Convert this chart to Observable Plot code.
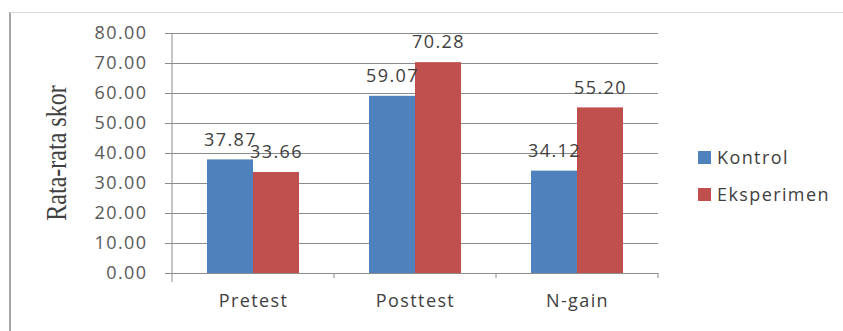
<!DOCTYPE html>
<html>
<head>
<meta charset="utf-8">
<script src="https://cdn.jsdelivr.net/npm/d3@7"></script>
<script src="https://cdn.jsdelivr.net/npm/@observablehq/plot@0.6"></script>
<style>
  html, body { margin: 0; padding: 0; background: #fff; }
  #wrap { position: relative; width: 843px; height: 331px; overflow: hidden; }
  #border { position: absolute; left: 9px; top: 12px; right: 0; bottom: 0; border-top: 1px solid #d9d9d9; border-left: 2px solid #a6a6a6; }
  #chart { position: absolute; left: 0; top: 0; }
  #chart svg text { letter-spacing: 1.4px; }
  .legend { position: absolute; left: 698px; top: 146px; font-family: "Open Sans", sans-serif; font-size: 18px; letter-spacing: 1.4px; color: #404040; }
  .legend .item { display: flex; align-items: center; height: 22px; margin-bottom: 15px; }
  .legend .sw { width: 13px; height: 13px; margin-right: 6px; }
  .ytitle { position: absolute; left: 57px; top: 153px; transform: translate(-50%, -50%) rotate(-90deg) scale(1, 1.25); font-family: "Liberation Serif", "Times New Roman", serif; font-size: 24px; color: #404040; white-space: nowrap; }
</style>
</head>
<body>
<div id="wrap">
  <div id="border"></div>
  <div id="chart"></div>
  <div class="ytitle">Rata-rata skor</div>
  <div class="legend" id="legend"></div>
</div>
<script>
const categories = ["Pretest", "Posttest", "N-gain"];
const series = ["Kontrol", "Eksperimen"];
const kontrol = [37.87, 59.07, 34.12];
const eksperimen = [33.66, 70.28, 55.20];
const yTicks = [0, 10, 20, 30, 40, 50, 60, 70, 80];
const colors = ["#4F81BD", "#C0504D"];

const data = categories.flatMap((c, i) => [
  {category: c, series: series[0], value: kontrol[i]},
  {category: c, series: series[1], value: eksperimen[i]}
]);

const plot = Plot.plot({
  width: 843,
  height: 331,
  marginLeft: 172,
  marginRight: 185,
  marginTop: 33,
  marginBottom: 58,
  style: {fontFamily: "'Open Sans', sans-serif", fontSize: "18px", color: "#595959", background: "transparent", overflow: "visible"},
  fx: {domain: categories, padding: 0, label: null, axis: null},
  x: {domain: series, paddingInner: 0, paddingOuter: 0.76, axis: null},
  y: {domain: [0, 80]},
  color: {domain: series, range: colors},
  marks: [
    Plot.gridY(yTicks.slice(1), {stroke: "#8c8c8c", strokeOpacity: 1}),
    Plot.axisY(yTicks, {tickSize: 7, tickPadding: 18, tickFormat: d => d.toFixed(2), label: null, stroke: "#8c8c8c", fill: "#595959"}),
    Plot.axisFx({anchor: "bottom", tickSize: 0, tickPadding: 21, label: null, fill: "#404040"}),
    Plot.barY(data, {fx: "category", x: "series", y: "value", fill: "series"}),
    Plot.text(data, {fx: "category", x: "series", y: "value", text: d => d.value.toFixed(2), dy: -20, fill: "#404040", fontSize: 18}),
    Plot.ruleY([0], {stroke: "#8c8c8c"})
  ]
});

// Excel-style axis lines and category boundary ticks, positioned from Plot's scales
const fx = plot.scale("fx");
const ys = plot.scale("y");
const svg = d3.select(plot);
const y0 = ys.apply(0), yTop = ys.apply(80);
const x0 = fx.apply(categories[0]);
svg.append("line").attr("x1", x0).attr("x2", x0).attr("y1", yTop).attr("y2", y0 + 9).attr("stroke", "#8c8c8c");
categories.forEach(c => {
  const xr = fx.apply(c) + fx.bandwidth;
  svg.append("line").attr("x1", xr).attr("x2", xr).attr("y1", y0).attr("y2", y0 + 5).attr("stroke", "#8c8c8c");
});
document.getElementById("chart").appendChild(plot);

// legend
const legend = document.getElementById("legend");
series.forEach((s, i) => {
  const item = document.createElement("div");
  item.className = "item";
  const sw = document.createElement("div");
  sw.className = "sw";
  sw.style.background = colors[i];
  const t = document.createElement("span");
  t.textContent = s;
  item.appendChild(sw);
  item.appendChild(t);
  legend.appendChild(item);
});
</script>
</body>
</html>
